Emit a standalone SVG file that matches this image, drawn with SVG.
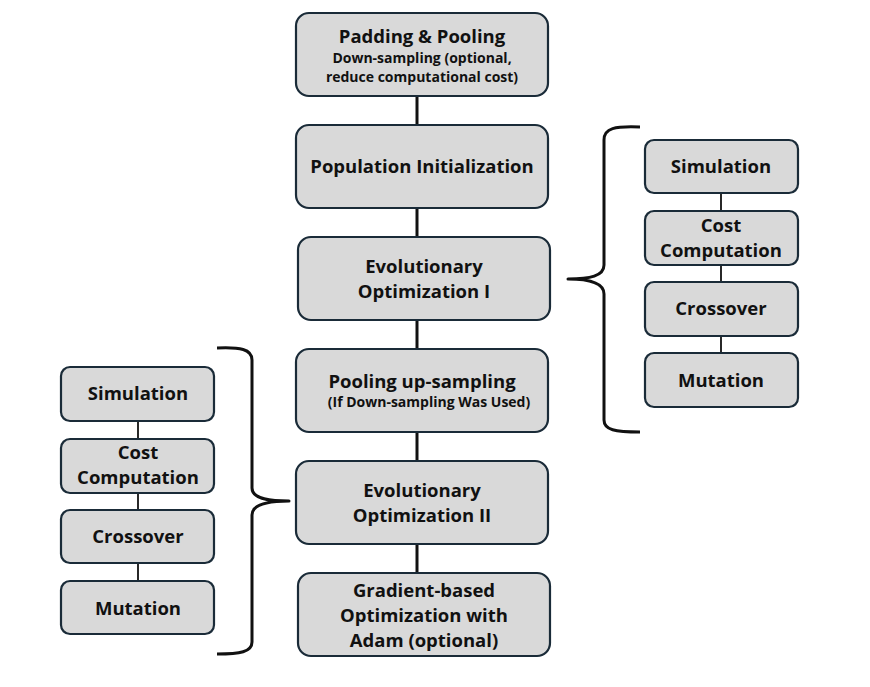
<svg xmlns="http://www.w3.org/2000/svg" width="870" height="687" viewBox="0 0 870 687">
<style>
.box{fill:#d9d9d9;stroke:#1a2b38;stroke-width:2.2}
.t{font-family:"Open Sans","Liberation Sans",sans-serif;font-weight:bold;font-size:18.5px;fill:#111;text-anchor:middle}
.s{font-size:14px}
.xs{font-size:14px}
.main{stroke:#111;stroke-width:3;fill:none}
.thin{stroke:#111;stroke-width:1.8;fill:none}
.brace{stroke:#111;stroke-width:3;fill:none;stroke-linejoin:round}
</style>
<rect width="870" height="687" fill="#fff"/>
<g id="connectors">
<line class="main" x1="417" y1="96" x2="417" y2="125"/>
<line class="main" x1="417" y1="208" x2="417" y2="237"/>
<line class="main" x1="417" y1="320" x2="417" y2="349"/>
<line class="main" x1="417" y1="432" x2="417" y2="461"/>
<line class="main" x1="417" y1="544" x2="417" y2="573"/>
<line class="thin" x1="721" y1="193" x2="721" y2="211"/>
<line class="thin" x1="721" y1="265" x2="721" y2="282"/>
<line class="thin" x1="721" y1="336" x2="721" y2="353"/>
<line class="thin" x1="138" y1="421" x2="138" y2="439"/>
<line class="thin" x1="138" y1="493" x2="138" y2="510"/>
<line class="thin" x1="138" y1="563" x2="138" y2="581"/>
<path id="brace-right" class="brace" d="M640,127 C615,126 604,128 604,140 L604,265 C604,276 590,279 568,279 C590,279 604,283 604,294 L604,420 C604,430 615,432 640,432"/>
<path id="brace-left" class="brace" d="M217,348 C240,347 252,349 252,360 L252,488 C252,498 266,501 289,501 C266,501 252,505 252,515 L252,642 C252,652 240,654 217,654"/>
</g>
<g id="n1"><rect class="box" x="296" y="13" width="252" height="83" rx="13"/>
<text class="t" x="422" y="43">Padding &amp; Pooling</text>
<text class="t s" x="422" y="63">Down-sampling (optional,</text>
<text class="t s" x="422" y="82">reduce computational cost)</text></g>
<g id="n2"><rect class="box" x="296" y="125" width="252" height="83" rx="13"/>
<text class="t" x="422" y="173">Population Initialization</text></g>
<g id="n3"><rect class="box" x="298" y="237" width="252" height="83" rx="13"/>
<text class="t" x="424" y="273">Evolutionary</text>
<text class="t" x="424" y="298">Optimization I</text></g>
<g id="n4"><rect class="box" x="296" y="349" width="252" height="83" rx="13"/>
<text class="t" x="422" y="388">Pooling up-sampling</text>
<text class="t xs" x="429" y="407">(If Down-sampling Was Used)</text></g>
<g id="n5"><rect class="box" x="296" y="461" width="252" height="83" rx="13"/>
<text class="t" x="422" y="497">Evolutionary</text>
<text class="t" x="422" y="522">Optimization II</text></g>
<g id="n6"><rect class="box" x="298" y="573" width="252" height="83" rx="13"/>
<text class="t" x="424" y="597">Gradient-based</text>
<text class="t" x="424" y="622">Optimization with</text>
<text class="t" x="424" y="647">Adam (optional)</text></g>
<g id="r1"><rect class="box" x="645" y="140" width="153" height="53" rx="9"/>
<text class="t" x="721" y="173">Simulation</text></g>
<g id="r2"><rect class="box" x="645" y="211" width="153" height="54" rx="9"/>
<text class="t" x="721" y="232">Cost</text>
<text class="t" x="721" y="257">Computation</text></g>
<g id="r3"><rect class="box" x="645" y="282" width="153" height="54" rx="9"/>
<text class="t" x="721" y="315">Crossover</text></g>
<g id="r4"><rect class="box" x="645" y="353" width="153" height="54" rx="9"/>
<text class="t" x="721" y="387">Mutation</text></g>
<g id="l1"><rect class="box" x="61" y="367" width="153" height="54" rx="9"/>
<text class="t" x="138" y="400">Simulation</text></g>
<g id="l2"><rect class="box" x="61" y="439" width="153" height="54" rx="9"/>
<text class="t" x="138" y="459">Cost</text>
<text class="t" x="138" y="484">Computation</text></g>
<g id="l3"><rect class="box" x="61" y="510" width="153" height="53" rx="9"/>
<text class="t" x="138" y="543">Crossover</text></g>
<g id="l4"><rect class="box" x="61" y="581" width="153" height="53" rx="9"/>
<text class="t" x="138" y="615">Mutation</text></g>
</svg>
